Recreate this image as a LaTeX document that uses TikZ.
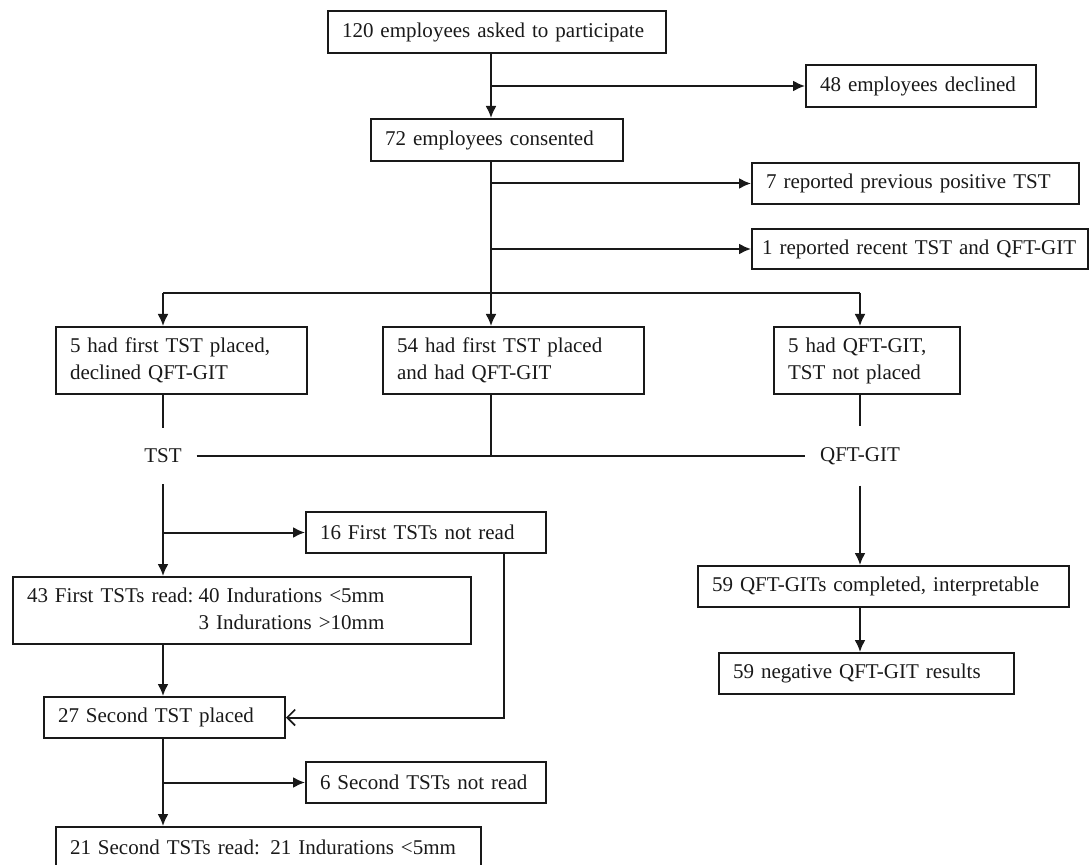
\documentclass[tikz,border=0pt]{standalone}
\usepackage{fontspec}
\setmainfont{Liberation Serif}
\usepackage{tikz}
\usetikzlibrary{arrows.meta}
\definecolor{ink}{gray}{0.1}

\begin{document}
\begin{tikzpicture}[x=0.5pt, y=-0.5pt, line width=1pt, color=ink,
        box/.style={draw, anchor=north west, align=left, inner xsep=7pt, inner ysep=3pt,
                font=\fontsize{10.5}{13.5}\selectfont},
        lbl/.style={inner xsep=7pt, inner ysep=10pt, font=\fontsize{10.5}{13.5}\selectfont},
        arr/.style={-{Latex[length=6pt, width=5.5pt]}},
        barb/.style={-{Straight Barb[length=4pt, width=8pt, line width=0.8pt]}}]

    \useasboundingbox (0, 0) rectangle (1090, 865);

    \node[box, text width=155pt, minimum height=21pt] (ask) at (327, 10) {120 employees asked to participate};
    \node[box, text width=101pt, minimum height=21pt] (declined) at (805, 64) {48 employees declined};
    \node[box, text width=112pt, minimum height=21pt] (consent) at (370, 118) {72 employees consented};
    \node[box, text width=149.5pt, minimum height=20.5pt] (prevpos) at (751, 162) {7 reported previous positive TST};
    \node[box, text width=158pt, inner xsep=5pt, minimum height=20pt] (recent) at (751, 228) {1 reported recent TST and QFT-GIT};

    \node[box, text width=111.5pt, minimum height=33.5pt] (tstonly) at (55, 326) {5 had first TST placed,\\declined QFT-GIT};
    \node[box, text width=116.5pt, minimum height=33.5pt] (both) at (382, 326) {54 had first TST placed\\and had QFT-GIT};
    \node[box, text width=79pt, minimum height=33.5pt] (qftonly) at (773, 326) {5 had QFT-GIT,\\TST not placed};

    \node[lbl] (tst) at (163, 456) {TST};
    \node[lbl] (qft) at (860, 456) {QFT-GIT};
    \coordinate (split) at (491, 293);

    \node[box, text width=106pt, minimum height=20.5pt] (notread1) at (305, 511) {16 First TSTs not read};
    \node[box, text width=215pt, minimum height=33.5pt] (read1) at (12, 576) {\begin{tabular}{@{}l@{\hspace{2.6pt}}l@{}}
            43 First TSTs read:&40 Indurations <5mm \\
                               &3 Indurations >10mm
        \end{tabular}};
    \node[box, text width=106.5pt, minimum height=20.5pt] (second) at (43, 696) {27 Second TST placed};
    \node[box, text width=106pt, minimum height=20.5pt] (notread2) at (305, 761) {6 Second TSTs not read};
    \node[box, text width=198.5pt, minimum height=20pt] (read2) at (55, 826) {21 Second TSTs read: 21 Indurations <5mm};

    \node[box, text width=171.5pt, minimum height=20.5pt] (qftdone) at (697, 565) {59 QFT-GITs completed, interpretable};
    \node[box, text width=133.5pt, minimum height=20.5pt] (qftneg) at (718, 652) {59 negative QFT-GIT results};

    \draw[arr] (ask.south -| split) -- (consent.north -| split);
    \draw[arr] (split |- declined.west) -- (declined.west);
    \draw (consent.south -| split) -- (split);
    \draw[arr] (split |- prevpos.west) -- (prevpos.west);
    \draw[arr] (split |- recent.west) -- (recent.west);

    \draw (split -| tst) -- (split -| qft);
    \draw[arr] (split -| tst) -- (tstonly.north -| tst);
    \draw[arr] (split) -- (both.north -| split);
    \draw[arr] (split -| qft) -- (qftonly.north -| qft);

    \draw (tstonly.south -| tst) -- (tst.north);
    \draw (both.south -| split) -- (split |- tst);
    \draw (qftonly.south -| qft) -- (qft.north);
    \draw (tst.east) -- (qft.west);

    \draw[arr] (tst.south) -- (read1.north -| tst);
    \draw[arr] (tst |- notread1.west) -- (notread1.west);
    \draw[arr] (read1.south -| tst) -- (second.north -| tst);
    \draw[barb] ([xshift=-21.5pt]notread1.south east) |- (second.east);
    \draw[arr] (second.south -| tst) -- (read2.north -| tst);
    \draw[arr] (tst |- notread2.west) -- (notread2.west);

    \draw[arr] (qft.south) -- (qftdone.north -| qft);
    \draw[arr] (qftdone.south -| qft) -- (qftneg.north -| qft);

\end{tikzpicture}
\end{document}
